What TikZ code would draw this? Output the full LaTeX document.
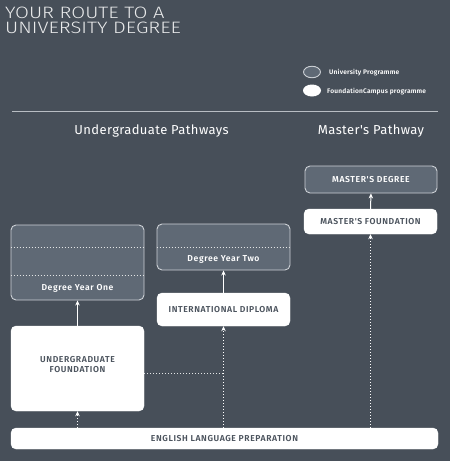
\documentclass[tikz,border=0pt]{standalone}
\usepackage{fontspec}
\setmainfont{Fira Sans}
\newfontfamily\lightfont[FakeStretch=1.22]{Fira Sans Light}
\newfontfamily\boxfont[LetterSpace=7]{Fira Sans SemiBold}
\newfontfamily\headfont[LetterSpace=3]{Fira Sans}
\newfontfamily\legfont[LetterSpace=3]{Fira Sans SemiBold}
\usetikzlibrary{arrows.meta,shapes.geometric}
\definecolor{bg}{HTML}{474F59}
\definecolor{grayfill}{HTML}{5F6975}
\definecolor{edge}{HTML}{CDD1D6}
\definecolor{boxtext}{HTML}{4B535D}
\definecolor{rule}{HTML}{B8BDC3}
\tikzset{
  basebox/.style={rectangle, rounded corners=5pt, inner sep=0pt, font=\boxfont\fontsize{8.6}{10}\selectfont, align=center},
  graybox/.style={basebox, draw=edge, line width=0.9pt, fill=grayfill, text=white},
  whitebox/.style={basebox, draw=white, fill=white, text=boxtext},
  solidarrow/.style={draw=white, line width=1pt, -{Stealth[length=5pt,width=4.5pt]}},
  dotarrow/.style={draw=white, line width=1pt, dash pattern=on 1pt off 2pt, -{Stealth[length=5pt,width=4.5pt]}},
  dotline/.style={draw=white!85!bg, line width=0.9pt, dash pattern=on 1pt off 2pt},
  heading/.style={text=white, font=\headfont\fontsize{13}{15}\selectfont},
  legendtext/.style={text=white, font=\legfont\fontsize{6.6}{8}\selectfont, anchor=west, inner sep=0pt}
}
\begin{document}
\begin{tikzpicture}[x=1pt,y=-1pt]
\fill[bg] (0,0) rectangle (450,461);
\useasboundingbox (0,0) rectangle (450,461);

% title
\node[anchor=north west, inner sep=0pt, text=white!88!bg, align=left, font=\lightfont\fontsize{16.5}{15.8}\selectfont] (title) at (5,6.5) {YOUR ROUTE TO A\\UNIVERSITY DEGREE};

% legend
\node[ellipse, draw=edge, line width=0.9pt, fill=grayfill, minimum width=17pt, minimum height=11.5pt, inner sep=0pt] (lg1) at (312,72) {};
\node[ellipse, fill=white, minimum width=18pt, minimum height=12pt, inner sep=0pt] (lg2) at (312,90.5) {};
\node[legendtext] (lt1) at (329,73) {University Programme};
\node[legendtext] (lt2) at (327,92) {FoundationCampus programme};

% rule
\coordinate (r1) at (12,111);
\coordinate (r2) at (438,111);
\draw[rule, line width=0.8pt] (r1) -- (r2);

% headings
\node[heading] (h1) at (151.5,131) {Undergraduate Pathways};
\node[heading] (h2) at (371,131) {Master's Pathway};

% master's pathway
\node[graybox, minimum width=132pt, minimum height=27pt] (md) at (371,179.5) {MASTER'S DEGREE};
\node[whitebox, minimum width=133pt, minimum height=25pt] (mf) at (370.5,221.5) {MASTER'S FOUNDATION};

% degree year one
\node[graybox, minimum width=133pt, minimum height=75pt] (dy1) at (77.5,262.5) {};
\node[inner sep=0pt, text=white, font=\boxfont\fontsize{8.6}{10}\selectfont] (dy1t) at (77.5,288) {Degree Year One};
\draw[dotline] ([yshift=-23pt]dy1.north west) -- ([yshift=-23pt]dy1.north east);
\draw[dotline] ([yshift=-51pt]dy1.north west) -- ([yshift=-51pt]dy1.north east);

% degree year two
\node[graybox, minimum width=133pt, minimum height=46pt] (dy2) at (223.5,247) {};
\node[inner sep=0pt, text=white, font=\boxfont\fontsize{8.6}{10}\selectfont] (dy2t) at (223.5,259) {Degree Year Two};
\draw[dotline] ([yshift=-24pt]dy2.north west) -- ([yshift=-24pt]dy2.north east);

% international diploma
\node[whitebox, minimum width=133pt, minimum height=33pt] (id) at (223.5,309.5) {INTERNATIONAL DIPLOMA};

% undergraduate foundation
\node[whitebox, minimum width=133pt, minimum height=85pt] (uf) at (77.5,368.5) {};
\node[inner sep=0pt, text=boxtext, font=\boxfont\fontsize{8.6}{9.5}\selectfont, align=center] (uft) at (77.5,364.5) {UNDERGRADUATE\\FOUNDATION};

% english language
\node[whitebox, minimum width=427pt, minimum height=21pt] (el) at (224.5,438.5) {ENGLISH LANGUAGE PREPARATION};

% arrows
\draw[solidarrow] (mf.north) -- (md.south);
\draw[solidarrow] (id.north) -- (dy2.south);
\draw[solidarrow] (uf.north) -- (dy1.south);
\draw[dotarrow] (el.north -| uf.north) -- (uf.south);
\draw[dotarrow] (el.north -| id.south) -- (id.south);
\draw[dotarrow] (el.north -| mf.south) -- (mf.south);
\draw[dotline, line width=1pt] (uf.east |- 0,373) -- (id.south |- 0,373);
\end{tikzpicture}
\end{document}
